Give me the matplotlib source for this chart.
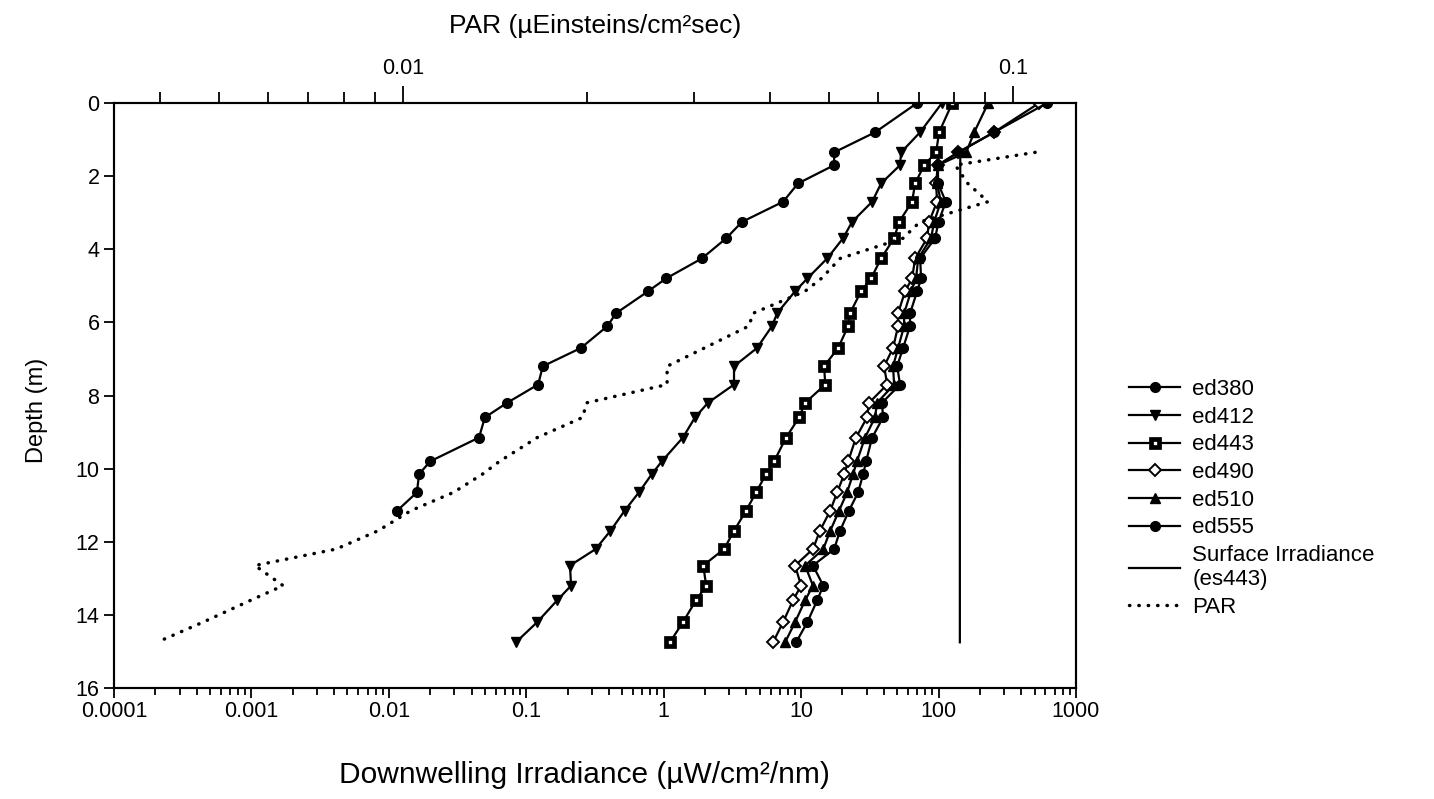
import numpy as np
import matplotlib.pyplot as plt
from matplotlib.ticker import FixedLocator, FixedFormatter, NullFormatter

plt.rcParams['font.family'] = ['Liberation Sans', 'DejaVu Sans']

# depth levels of the profile (m)
depth = [0, 0.8, 1.35, 1.7, 2.2, 2.7, 3.25, 3.7, 4.25, 4.8, 5.15, 5.75, 6.1, 6.7,
         7.2, 7.7, 8.2, 8.6, 9.15, 9.8, 10.15, 10.65, 11.15, 11.7, 12.2, 12.65,
         13.2, 13.6, 14.2, 14.75]

# downwelling irradiance (uW/cm2/nm)
ed380 = [70, 34.6, 17.4, 17.4, 9.5, 7.4, 3.72, 2.85, 1.90, 1.04, 0.77, 0.45, 0.39,
         0.25, 0.132, 0.122, 0.0725, 0.050, 0.0453, 0.020, 0.0166, 0.0160, 0.0115]
ed412 = [106, 73.5, 53.4, 52.5, 38.2, 32.9, 23.5, 20.2, 15.5, 11.1, 9.04, 6.69, 6.15,
         4.78, 3.25, 3.25, 2.10, 1.69, 1.38, 0.97, 0.82, 0.66, 0.52, 0.41, 0.32,
         0.208, 0.212, 0.168, 0.12, 0.084]
ed443 = [126, 101, 96, 78.6, 67.6, 64.2, 51.7, 47.5, 38.2, 32.3, 27.3, 22.7, 22.0,
         18.6, 14.7, 15.0, 10.7, 9.67, 7.78, 6.36, 5.56, 4.70, 3.98, 3.25, 2.75,
         1.94, 2.04, 1.72, 1.38, 1.11]
ed490 = [540, 254, 139, 99, 96, 97.6, 85.4, 82.6, 67.6, 64.2, 57.1, 50.8, 50.8,
         46.7, 40.2, 42.3, 31.2, 30.2, 25.1, 22.0, 20.6, 18.3, 16.3, 13.7, 12.2,
         9.04, 10.0, 8.74, 7.39, 6.25]
ed510 = [230, 182, 159, 99, 97.6, 104, 92.9, 88.3, 71.1, 68.7, 63.1, 56.2, 56.2,
         50.8, 46.7, 47.5, 35.7, 34.5, 29.2, 25.5, 23.9, 21.6, 18.9, 16.3, 14.5,
         10.7, 12.2, 10.7, 9.04, 7.65]
ed555 = [617, 254, 139, 99, 99.3, 113, 100, 94.4, 73.5, 74.7, 69.9, 62.1, 62.1,
         55.2, 50.0, 52.5, 38.8, 39.5, 32.9, 29.7, 28.3, 26.0, 22.3, 19.2, 17.4,
         12.2, 14.5, 13.1, 11.1, 9.2]

# surface irradiance es443
es_depth = [1.35, 5.0, 10.0, 14.75]
es443 = [144, 144, 143, 143]

# PAR (uEinsteins/cm2 sec), top axis
par = [0.1087, 0.0804, 0.0843, 0.0910, 0.0704, 0.0660, 0.0521, 0.0485, 0.0456,
       0.0375, 0.0369, 0.0312, 0.0271, 0.0271, 0.0200, 0.0197, 0.0166, 0.0144,
       0.0135, 0.0121, 0.0103, 0.0091, 0.00777, 0.00572, 0.00636, 0.00563,
       0.00470, 0.00395]
par_depth = depth[2:]

bottom_ticks = [1e-4, 1e-3, 1e-2, 1e-1, 1, 10, 100, 1000]
bottom_labels = ['0.0001', '0.001', '0.01', '0.1', '1', '10', '100', '1000']
top_ticks = [0.01, 0.1]
top_labels = ['0.01', '0.1']

fig = plt.figure(figsize=(14.34, 7.99), dpi=100)
ax = fig.add_axes([0.0795, 0.1389, 0.6708, 0.7322])

lw = 1.6
h = []
h += ax.plot(ed380, depth[:len(ed380)], color='black', lw=lw, marker='o', ms=7, label='ed380')
h += ax.plot(ed412, depth, color='black', lw=lw, marker='v', ms=7, label='ed412')
h += ax.plot(ed443, depth, color='black', lw=lw, marker='s', ms=6, mfc='white', mew=3.4, label='ed443')
h += ax.plot(ed490, depth, color='black', lw=lw, marker='D', ms=6.5, mfc='white', mew=1.4, label='ed490')
h += ax.plot(ed510, depth, color='black', lw=lw, marker='^', ms=7, label='ed510')
h += ax.plot(ed555, depth, color='black', lw=lw, marker='o', ms=7, label='ed555')
h += ax.plot(es443, es_depth, color='black', lw=lw, label='Surface Irradiance\n(es443)')

ax.set_xscale('log')
ax.set_xlim(1e-4, 1e3)
ax.set_ylim(16, 0)
ax.set_yticks(range(0, 17, 2))
ax.xaxis.set_major_locator(FixedLocator(bottom_ticks))
ax.xaxis.set_major_formatter(FixedFormatter(bottom_labels))
minor = [m * t for t in bottom_ticks[:-1] for m in range(2, 10)]
ax.xaxis.set_minor_locator(FixedLocator(minor))
ax.xaxis.set_minor_formatter(NullFormatter())
ax.tick_params(which='both', direction='out', top=False, right=False, width=1.3, labelsize=15.5)
ax.tick_params(which='major', length=7)
ax.tick_params(which='minor', length=5)
ax.tick_params(axis='x', pad=2)
for s in ax.spines.values():
    s.set_linewidth(1.5)

ax.set_xlabel('Downwelling Irradiance (µW/cm²/nm)', fontsize=21.5, labelpad=30)
ax.xaxis.set_label_coords(0.489, -0.125)
ax.set_ylabel('Depth (m)', fontsize=17)
ax.yaxis.set_label_coords(-0.069, 0.475)

ax2 = ax.twiny()
ax2.set_xscale('log')
ax2.set_xlim(0.00336, 0.1268)
h += ax2.plot(par, par_depth, color='black', lw=2.5, linestyle=(0, (0.1, 2.6)),
              dash_capstyle='round', label='PAR')
ax2.xaxis.set_major_locator(FixedLocator(top_ticks))
ax2.xaxis.set_major_formatter(FixedFormatter(top_labels))
top_minor = [m * t for t in [0.001, 0.01] for m in range(2, 10)]
ax2.xaxis.set_minor_locator(FixedLocator(top_minor))
ax2.xaxis.set_minor_formatter(NullFormatter())
ax2.tick_params(which='both', direction='out', width=1.3, labelsize=15.5)
ax2.tick_params(which='major', length=12, pad=5)
ax2.tick_params(which='minor', length=8)
ax2.set_xlabel('PAR (µEinsteins/cm²sec)', fontsize=19, labelpad=18)
for s in ax2.spines.values():
    s.set_linewidth(1.5)

fig.legend(handles=h, loc='upper left', bbox_to_anchor=(1118 / 1434, 1 - 368 / 799),
           frameon=False, fontsize=16, handlelength=2.3, handletextpad=0.55,
           labelspacing=0.3, borderpad=0)

fig.savefig('out.png', dpi=100)
